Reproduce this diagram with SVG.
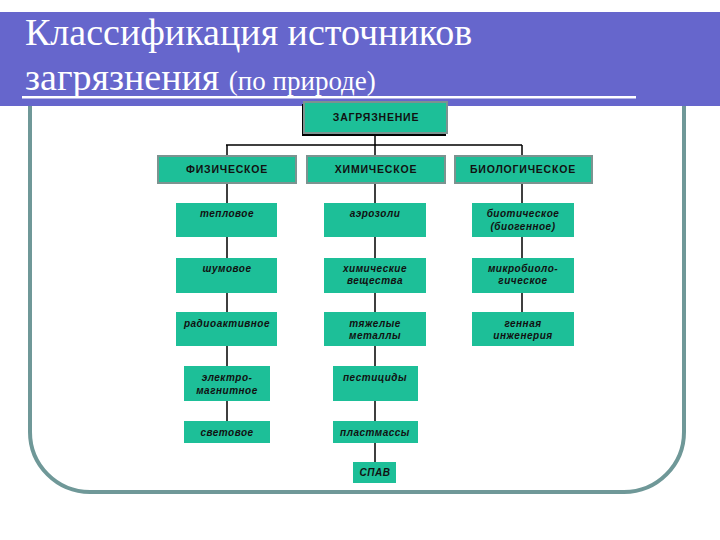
<svg xmlns="http://www.w3.org/2000/svg" width="720" height="540" viewBox="0 0 720 540">
<style>
.box{fill:#1dbf98;}
.hbox{fill:#1dbf98;stroke:#7c9390;stroke-width:2;}
.lbl{font-family:"Liberation Sans",Arial,sans-serif;font-weight:bold;font-size:10.5px;letter-spacing:0.8px;fill:#111;text-anchor:middle;}
.sm{font-family:"Liberation Sans",Arial,sans-serif;font-weight:bold;font-style:italic;font-size:10px;letter-spacing:0.5px;fill:#111;text-anchor:middle;}
.ttl{font-family:"Liberation Serif","Times New Roman",serif;fill:#fff;}
.con{stroke:#000;stroke-width:1.5;fill:none;}
</style>
<rect width="720" height="540" fill="#fff"/>
<g id="frame">
<path d="M30,100 V432 A60,60 0 0 0 90,492 H624 A60,60 0 0 0 684,432 V100" fill="none" stroke="#6f9898" stroke-width="4"/>
</g>
<g id="title">
<rect x="0" y="12" width="720" height="94" fill="#6666cc"/>
<rect x="22" y="96" width="614" height="2.5" fill="#fff"/>
<text class="ttl" x="25" y="45" font-size="38">Классификация источников</text>
<text class="ttl" x="25" y="90" font-size="38">загрязнения <tspan font-size="27">(по природе)</tspan></text>
</g>
<g id="connectors" class="con">
<path d="M375,135 V145 M226,145 H522 M227,145 V156 M375,145 V156 M522,145 V156"/>
<path d="M227,183 V203 M227,237 V258 M227,293 V312 M227,346 V366 M227,401 V421"/>
<path d="M375,183 V203 M375,237 V258 M375,293 V312 M375,346 V366 M375,401 V421 M375,443 V462"/>
<path d="M522,183 V203 M522,237 V258 M522,293 V312"/>
</g>
<g id="n-root">
<rect x="302" y="104" width="144" height="32" fill="#000"/>
<rect class="hbox" x="304" y="102" width="143" height="31"/>
<text class="lbl" x="376" y="121">ЗАГРЯЗНЕНИЕ</text>
</g>
<g id="n-phys"><rect class="hbox" x="158" y="156" width="138" height="27"/><text class="lbl" x="227" y="173">ФИЗИЧЕСКОЕ</text></g>
<g id="n-chem"><rect class="hbox" x="307" y="156" width="138" height="27"/><text class="lbl" x="376" y="173">ХИМИЧЕСКОЕ</text></g>
<g id="n-bio"><rect class="hbox" x="455" y="156" width="137" height="27"/><text class="lbl" x="523" y="173">БИОЛОГИЧЕСКОЕ</text></g>

<g id="n-teplo"><rect class="box" x="176" y="203" width="101" height="34"/><text class="sm" x="227" y="217">тепловое</text></g>
<g id="n-aero"><rect class="box" x="324" y="203" width="102" height="34"/><text class="sm" x="375" y="217">аэрозоли</text></g>
<g id="n-biot"><rect class="box" x="472" y="203" width="102" height="34"/><text class="sm" x="523" y="217">биотическое</text><text class="sm" x="523" y="230">(биогенное)</text></g>

<g id="n-shum"><rect class="box" x="176" y="258" width="101" height="35"/><text class="sm" x="227" y="272">шумовое</text></g>
<g id="n-himv"><rect class="box" x="324" y="258" width="102" height="35"/><text class="sm" x="375" y="272">химические</text><text class="sm" x="375" y="284">вещества</text></g>
<g id="n-micro"><rect class="box" x="472" y="258" width="102" height="35"/><text class="sm" x="523" y="272">микробиоло-</text><text class="sm" x="523" y="284">гическое</text></g>

<g id="n-radio"><rect class="box" x="176" y="312" width="101" height="34"/><text class="sm" x="227" y="327">радиоактивное</text></g>
<g id="n-metal"><rect class="box" x="324" y="312" width="102" height="34"/><text class="sm" x="375" y="327">тяжелые</text><text class="sm" x="375" y="339">металлы</text></g>
<g id="n-gen"><rect class="box" x="472" y="312" width="102" height="34"/><text class="sm" x="523" y="327">генная</text><text class="sm" x="523" y="339">инженерия</text></g>

<g id="n-elmag"><rect class="box" x="184" y="366" width="86" height="35"/><text class="sm" x="227" y="381">электро-</text><text class="sm" x="227" y="394">магнитное</text></g>
<g id="n-pest"><rect class="box" x="333" y="366" width="85" height="35"/><text class="sm" x="375" y="381">пестициды</text></g>

<g id="n-svet"><rect class="box" x="184" y="421" width="86" height="22"/><text class="sm" x="227" y="436">световое</text></g>
<g id="n-plast"><rect class="box" x="333" y="421" width="85" height="22"/><text class="sm" x="375" y="436">пластмассы</text></g>
<g id="n-spav"><rect class="box" x="353" y="462" width="43" height="21"/><text class="sm" x="375" y="476">СПАВ</text></g>
</svg>
